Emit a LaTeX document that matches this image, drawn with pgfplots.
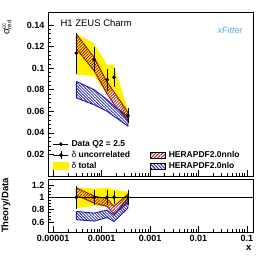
\documentclass[border=0pt]{standalone}
\usepackage{pgfplots}
\pgfplotsset{compat=1.18}
\usepackage{fontspec}
\setmainfont{Liberation Sans}
\usetikzlibrary{patterns.meta}
\definecolor{nnlored}{rgb}{0.62,0.08,0.08}
\definecolor{nloblue}{rgb}{0.1,0.1,0.66}
\definecolor{xfblue}{rgb}{0.3,0.68,0.9}
\tikzset{
  redband/.style={draw=nnlored, line width=0.9pt, pattern={Lines[angle=45,distance=2.1pt,line width=0.75pt]}, pattern color=nnlored},
  blueband/.style={draw=nloblue, line width=0.9pt, pattern={Lines[angle=-45,distance=2.1pt,line width=0.75pt]}, pattern color=nloblue},
}
\begin{document}
\begin{tikzpicture}
\path[use as bounding box] (0,0) rectangle (266pt,258pt);
% ---------------- top panel
\begin{axis}[scale only axis, width=205pt, height=164pt, at={(48pt,82pt)}, anchor=south west,
  xmode=log, xmin=7.8e-6, xmax=0.134,
  axis line style={line width=0.6pt},
  tick style={black, line width=0.5pt},
  major tick length=6pt, minor tick length=3pt,
  tick pos=left, tick align=inside,
  tick label style={font=\bfseries\fontsize{9}{10}\selectfont},
  xtick={1e-5,1e-4,1e-3,1e-2,1e-1},
  xticklabels={},
  ymin=0, ymax=0.152,
  ytick={0.02,0.04,0.06,0.08,0.1,0.12,0.14},
  yticklabels={0.02,0.04,0.06,0.08,0.1,0.12,0.14},
  minor y tick num=4,
  ylabel={\fontsize{9.5}{10}\selectfont σ\rlap{\raisebox{3.6pt}{\fontsize{6}{6}\selectfont cc}}\raisebox{-2pt}{\fontsize{6}{6}\selectfont red}},
  ylabel style={at={(axis description cs:-0.2,0.97)}, anchor=east},
  legend columns=2,
  legend cell align=left,
  legend style={draw=none, fill=none, inner sep=0pt, row sep=2.6pt,
    at={(axis description cs:0.024,0.035)}, anchor=south west,
    font=\bfseries\fontsize{8.5}{9}\selectfont,
    nodes={inner sep=0pt, text height=6.2pt, text depth=1.8pt},
    /tikz/every odd column/.append style={column sep=2.8pt},
    /tikz/every even column/.append style={column sep=20pt}},
]
% total band
\addplot[fill=yellow, draw=none, forget plot] coordinates {
 (3.0e-5,0.1321) (7.0e-5,0.1230) (1.3e-4,0.1031) (1.8e-4,0.1031) (3.5e-4,0.0610)
 (3.5e-4,0.0510) (1.8e-4,0.0795) (1.3e-4,0.0759) (7.0e-5,0.0926) (3.0e-5,0.0939) (3.0e-5,0.1321)};
% nnlo band
\addplot[redband, forget plot] coordinates {
 (3.0e-5,0.1315) (7.0e-5,0.1100) (1.3e-4,0.0870) (1.8e-4,0.0780) (3.5e-4,0.0590)
 (3.5e-4,0.0510) (1.8e-4,0.0665) (1.3e-4,0.0760) (7.0e-5,0.0975) (3.0e-5,0.1180) (3.0e-5,0.1315)};
% nlo band
\addplot[blueband, forget plot] coordinates {
 (3.0e-5,0.0877) (7.0e-5,0.0800) (1.3e-4,0.0708) (1.8e-4,0.0646) (3.5e-4,0.0554)
 (3.5e-4,0.0462) (1.8e-4,0.0554) (1.3e-4,0.0600) (7.0e-5,0.0660) (3.0e-5,0.0724) (3.0e-5,0.0877)};
% data
\addplot[black, only marks, mark=*, mark size=1.7pt, forget plot,
  error bars/.cd, y dir=both, y explicit,
  error bar style={line width=0.7pt},
  error mark options={black, mark size=1.8pt, line width=0.6pt}]
  table[x=x, y=y, y error=e] {
x y e
3.0e-5 0.1139 0.0174
7.0e-5 0.1077 0.0100
1.3e-4 0.0893 0.0086
1.8e-4 0.0914 0.0070
3.5e-4 0.0560 0.0054
};
% legend
\addlegendimage{legend image code/.code={\draw[black,line width=0.6pt] (0pt,0pt)--(15pt,0pt); \fill[black] (7.5pt,0pt) circle (1.7pt);}}
\addlegendentry{Data Q2 = 2.5}
\addlegendimage{empty legend}
\addlegendentry{}
\addlegendimage{legend image code/.code={\draw[black,line width=0.7pt] (7.5pt,-4pt)--(7.5pt,4pt); \fill[black] (7.5pt,0pt) circle (1.7pt); \path (0pt,0pt) rectangle (15pt,0pt);}}
\addlegendentry{{\mdseries δ} uncorrelated}
\addlegendimage{legend image code/.code={\fill[pattern={Lines[angle=45,distance=2.4pt,line width=0.9pt]}, pattern color=nnlored] (0pt,-3pt) rectangle (15pt,3pt);}}
\addlegendentry{HERAPDF2.0nnlo}
\addlegendimage{legend image code/.code={\fill[yellow] (0pt,-3.4pt) rectangle (15pt,3.4pt);}}
\addlegendentry{{\mdseries δ} total}
\addlegendimage{legend image code/.code={\fill[pattern={Lines[angle=-45,distance=2.4pt,line width=0.9pt]}, pattern color=nloblue] (0pt,-3pt) rectangle (15pt,3pt);}}
\addlegendentry{HERAPDF2.0nlo}
\node[anchor=west, font=\fontsize{9.5}{10}\selectfont] at (axis description cs:0.044,0.935) {H1 ZEUS Charm};
\node[font=\itshape\fontsize{9}{9}\selectfont, text=xfblue] at (axis description cs:0.888,0.89) {xFitter};
\end{axis}
% ---------------- ratio panel
\begin{axis}[scale only axis, width=205pt, height=53pt, at={(48pt,26pt)}, anchor=south west,
  xmode=log, xmin=7.8e-6, xmax=0.134,
  axis line style={line width=0.6pt},
  tick style={black, line width=0.5pt},
  major tick length=6pt, minor tick length=3pt,
  tick pos=left, tick align=inside,
  tick label style={font=\bfseries\fontsize{9}{10}\selectfont},
  xtick={1e-5,1e-4,1e-3,1e-2,1e-1},
  xticklabels={0.00001,0.0001,0.001,0.01,0.1},
  ymin=0.436, ymax=1.298,
  ytick={0.6,0.8,1,1.2},
  yticklabels={0.6,0.8,1,1.2},
  minor y tick num=3,
  ylabel={\bfseries\fontsize{9.5}{10}\selectfont Theory/Data},
  ylabel style={at={(axis description cs:-0.205,0.5)}, anchor=center},
  xlabel={\bfseries\fontsize{9.5}{10}\selectfont x},
  xlabel style={at={(axis description cs:0.98,-0.30)}, anchor=center},
]
\addplot[fill=yellow, draw=none] coordinates {
 (3.0e-5,1.160) (7.0e-5,1.142) (1.3e-4,1.154) (1.8e-4,1.128) (3.5e-4,1.090)
 (3.5e-4,0.910) (1.8e-4,0.870) (1.3e-4,0.850) (7.0e-5,0.860) (3.0e-5,0.824) (3.0e-5,1.160)};
\addplot[redband] coordinates {
 (3.0e-5,1.155) (7.0e-5,1.021) (1.3e-4,0.974) (1.8e-4,0.853) (3.5e-4,1.054)
 (3.5e-4,0.911) (1.8e-4,0.728) (1.3e-4,0.851) (7.0e-5,0.905) (3.0e-5,1.036) (3.0e-5,1.155)};
\addplot[blueband] coordinates {
 (3.0e-5,0.770) (7.0e-5,0.743) (1.3e-4,0.793) (1.8e-4,0.707) (3.5e-4,0.989)
 (3.5e-4,0.825) (1.8e-4,0.606) (1.3e-4,0.672) (7.0e-5,0.613) (3.0e-5,0.636) (3.0e-5,0.770)};
\addplot[black, line width=0.6pt] coordinates {(7.8e-6,1) (0.134,1)};
\addplot[black, only marks, mark=*, mark size=1.7pt,
  error bars/.cd, y dir=both, y explicit,
  error bar style={line width=0.7pt},
  error mark options={black, mark size=1.8pt, line width=0.6pt}]
  table[x=x, y=y, y error=e] {
x y e
3.0e-5 1 0.153
7.0e-5 1 0.093
1.3e-4 1 0.096
1.8e-4 1 0.077
3.5e-4 1 0.096
};
\end{axis}
\end{tikzpicture}
\end{document}
